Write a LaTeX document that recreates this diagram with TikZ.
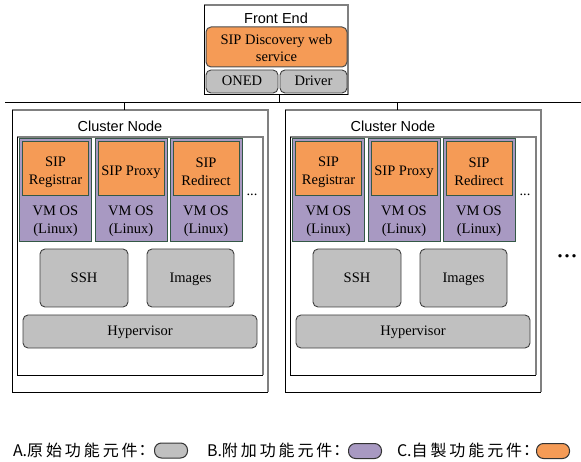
\documentclass[tikz,border=0pt]{standalone}
\usepackage{fontspec}
\setmainfont{Liberation Serif}
\newfontfamily\arialfont{Liberation Sans}
\newfontfamily\cjkfont{Noto Sans CJK TC}
\definecolor{sipOrange}{RGB}{245,155,86}
\definecolor{vmPurple}{RGB}{168,153,194}
\definecolor{baseGray}{RGB}{192,192,192}
\definecolor{edgeGreen}{RGB}{52,88,70}
\definecolor{frameGray}{RGB}{128,128,128}
% extra tracking between CJK glyphs of the legend
\newcommand\gp{\hspace{2.9pt}}
% frame with a light top/right edge and a dark left/bottom edge
\newcommand\sunkenframe[1]{%
  \draw[frameGray, line width=1.2pt] (#1.south east) -- (#1.north east) -- (#1.north west);
  \draw[black, line width=1pt] (#1.north west) -- (#1.south west) -- (#1.south east);}

\begin{document}
\begin{tikzpicture}[x=1pt,y=-1pt,
  every node/.style={inner sep=0pt, outer sep=0pt, align=center},
  lbl/.style={font=\fontsize{14.5}{18}\selectfont},
  hdr/.style={font=\arialfont\fontsize{14.5}{17}\selectfont},
  frame/.style={rectangle},
  appbox/.style={rectangle, fill=sipOrange, draw=edgeGreen, line width=1pt},
  vmbox/.style={rectangle, fill=vmPurple, draw=edgeGreen, line width=1pt},
  basebox/.style={rectangle, rounded corners=5pt, fill=baseGray, draw=black!75, line width=0.9pt, lbl,
                  text height=12pt, text depth=3pt},
  pill/.style={rectangle, rounded corners=7pt, draw=black!80, line width=1pt, minimum width=33pt, minimum height=15pt},
  legend/.style={font=\cjkfont\fontsize{16}{18}\selectfont, anchor=west},
  wire/.style={draw=black, line width=1pt}
]
\useasboundingbox (0,0) rectangle (581,462);

% ---------- front end ----------
\node[frame, minimum width=144pt, minimum height=90pt] (fe) at (276,50) {};
\sunkenframe{fe}
\node[hdr] (fetitle) at (276,18) {Front End};
\node[appbox, rounded corners=5pt, draw=black!70, minimum width=141pt, minimum height=40pt] (disc) at (276.5,47) {};
\node[font=\fontsize{14.5}{16.5}\selectfont] (disctext) at (276.5,48) {SIP Discovery web\\service};
\node[basebox, minimum width=72pt, minimum height=23pt] (oned) at (242,81.5) {ONED};
\node[basebox, minimum width=67pt, minimum height=23pt] (driver) at (313.5,81.5) {Driver};

% ---------- bus ----------
\coordinate (busL) at (5,103);
\coordinate (busR) at (581,103);
\draw[wire] (busL) -- (busR);
\draw[wire] ([xshift=3pt]fe.south) -- ([xshift=3pt]fe.south |- busL);

% ---------- cluster nodes ----------
\foreach \p/\dx in {L/0,R/273}{
  \node[frame, minimum width=256pt, minimum height=282pt] (\p-out) at ({\dx+140},251) {};
  \sunkenframe{\p-out}
  \node[frame, minimum width=246pt, minimum height=238pt] (\p-in) at ({\dx+140},256) {};
  \sunkenframe{\p-in}
  \node[hdr] (\p-title) at ({\dx+120},126) {Cluster Node};
  \draw[wire] ([xshift=-16pt]\p-out.north) -- ([xshift=-16pt]\p-out.north |- busL);

  \foreach \i/\cx/\txt in {1/55.5/{SIP\\Registrar}, 2/131/{SIP Proxy}, 3/206/{SIP\\Redirect}}{
    \node[vmbox, minimum width=72pt, minimum height=103pt] (\p-vm\i) at ({\dx+\cx},190.5) {};
    \node[appbox, minimum width=66pt, minimum height=54pt] (\p-app\i) at ({\dx+\cx},169) {};
    \node[lbl] (\p-apptext\i) at ({\dx+\cx},172) {\txt};
    \node[lbl] (\p-os\i) at ({\dx+\cx},221) {VM OS\\(Linux)};
  }
  \node[lbl] (\p-more) at ({\dx+252},195) {...};

  \node[basebox, minimum width=88pt, minimum height=58pt] (\p-ssh) at ({\dx+84},278) {SSH};
  \node[basebox, minimum width=87pt, minimum height=58pt] (\p-img) at ({\dx+190.5},278) {Images};
  \node[basebox, minimum width=234pt, minimum height=33pt] (\p-hyp) at ({\dx+140},331.5) {Hypervisor};
}
\node[font=\fontsize{28}{30}\selectfont] (moreclusters) at (567,256) {...};

% ---------- legend ----------
\node[legend] (legA) at (13,450) {A.原\gp{}始\gp{}功\gp{}能\gp{}元\gp{}件\kern-3pt：};
\node[pill, fill=baseGray] (pillA) at (171,450.5) {};
\node[legend] (legB) at (207,450) {B.附\gp{}加\gp{}功\gp{}能\gp{}元\gp{}件\kern-3pt：};
\node[pill, fill=vmPurple] (pillB) at (365,451) {};
\node[legend] (legC) at (397,450) {C.自\gp{}製\gp{}功\gp{}能\gp{}元\gp{}件\kern-3pt：};
\node[pill, fill=sipOrange] (pillC) at (553,451) {};
\end{tikzpicture}
\end{document}
